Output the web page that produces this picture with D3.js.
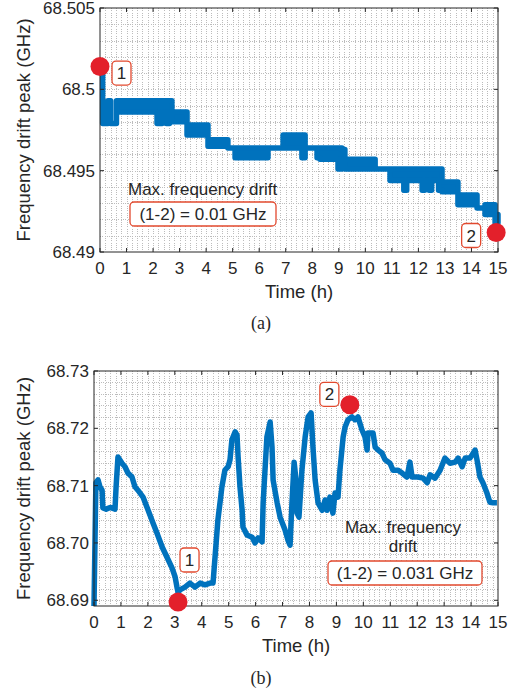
<!DOCTYPE html>
<html>
<head>
<meta charset="utf-8">
<script src="https://cdn.jsdelivr.net/npm/d3@7"></script>
<style>
  body { margin: 0; background: #fff; }
  text { font-family: "Liberation Sans", Arial, Helvetica, sans-serif; fill: #262626; }
</style>
</head>
<body>
<script>
var W = 514, H = 693;

var hours = [0, 1, 2, 3, 4, 5, 6, 7, 8, 9, 10, 11, 12, 13, 14, 15];

/* (a) peak flickers between levels: time, lower level, upper level (step after) */
var tA  = [0.00, 0.10, 0.30, 0.40, 0.62, 2.15, 2.34, 2.50, 2.62, 2.71, 3.28, 4.07, 4.82, 5.09, 6.33, 6.90, 7.61, 7.73, 8.18, 8.29, 8.97, 9.12, 9.23, 10.37, 10.93, 11.45, 11.56, 12.14, 12.24, 12.40, 12.50, 12.76, 12.89, 13.49, 14.21, 14.51, 14.89, 15.00];
var loA = [68.5014, 68.4979, 68.4986, 68.4979, 68.4986, 68.4979, 68.4986, 68.4979, 68.4986, 68.4980, 68.4972, 68.4965, 68.4964, 68.4958, 68.4964, 68.4964, 68.4958, 68.4964, 68.4958, 68.4957, 68.4951, 68.4957, 68.4951, 68.4951, 68.4944, 68.4938, 68.4944, 68.4938, 68.4944, 68.4938, 68.4944, 68.4938, 68.4937, 68.4929, 68.4927, 68.4923, 68.4918, 68.4918];
var hiA = [68.5014, 68.4979, 68.4993, 68.4979, 68.4993, 68.4993, 68.4993, 68.4993, 68.4993, 68.4986, 68.4978, 68.4969, 68.4964, 68.4964, 68.4964, 68.4972, 68.4972, 68.4964, 68.4964, 68.4964, 68.4964, 68.4963, 68.4957, 68.4951, 68.4951, 68.4951, 68.4951, 68.4951, 68.4951, 68.4951, 68.4951, 68.4951, 68.4943, 68.4935, 68.4927, 68.4929, 68.4923, 68.4918];

/* (b) */
var tB = [0, 0.07, 0.15, 0.22, 0.30, 0.33, 0.45, 0.60, 0.78, 0.82, 0.89, 1.04, 1.15, 1.26, 1.41, 1.52, 1.63, 1.82, 2.01, 2.19, 2.34, 2.53, 2.71, 2.90, 3.01, 3.08, 3.12, 3.19, 3.38, 3.56, 3.75, 3.94, 4.12, 4.31, 4.42, 4.60, 4.75, 4.86, 4.98, 5.05, 5.12, 5.24, 5.31, 5.35, 5.42, 5.50, 5.53, 5.68, 5.87, 5.98, 6.09, 6.24, 6.28, 6.42, 6.54, 6.61, 6.65, 6.80, 6.91, 7.09, 7.20, 7.28, 7.35, 7.43, 7.50, 7.54, 7.61, 7.72, 7.84, 7.95, 8.06, 8.13, 8.21, 8.32, 8.47, 8.58, 8.65, 8.76, 8.87, 8.95, 9.06, 9.13, 9.25, 9.32, 9.43, 9.58, 9.69, 9.80, 9.95, 10.06, 10.14, 10.17, 10.36, 10.44, 10.55, 10.69, 10.81, 10.99, 11.10, 11.29, 11.44, 11.62, 11.73, 11.81, 12.03, 12.22, 12.37, 12.48, 12.66, 12.85, 13.03, 13.22, 13.41, 13.52, 13.67, 13.78, 13.96, 14.15, 14.22, 14.33, 14.44, 14.59, 14.70, 14.82, 14.96];
var vB = [68.6890, 68.7105, 68.7110, 68.7098, 68.7092, 68.7061, 68.7059, 68.7062, 68.7059, 68.7098, 68.7150, 68.7139, 68.7133, 68.7122, 68.7115, 68.7098, 68.7092, 68.7080, 68.7057, 68.7035, 68.7017, 68.6993, 68.6975, 68.6956, 68.6941, 68.6923, 68.6914, 68.6918, 68.6923, 68.6930, 68.6923, 68.6930, 68.6927, 68.6930, 68.6930, 68.7040, 68.7098, 68.7127, 68.7133, 68.7145, 68.7180, 68.7194, 68.7188, 68.7150, 68.7098, 68.7057, 68.7028, 68.7014, 68.7010, 68.7000, 68.7009, 68.7002, 68.7070, 68.7185, 68.7211, 68.7167, 68.7110, 68.7070, 68.7045, 68.7023, 68.7005, 68.6996, 68.7070, 68.7141, 68.7110, 68.7052, 68.7045, 68.7127, 68.7185, 68.7220, 68.7227, 68.7167, 68.7110, 68.7070, 68.7057, 68.7075, 68.7057, 68.7080, 68.7052, 68.7087, 68.7080, 68.7127, 68.7185, 68.7202, 68.7215, 68.7220, 68.7215, 68.7220, 68.7197, 68.7185, 68.7162, 68.7192, 68.7192, 68.7167, 68.7162, 68.7157, 68.7145, 68.7139, 68.7127, 68.7127, 68.7122, 68.7115, 68.7141, 68.7115, 68.7115, 68.7113, 68.7105, 68.7119, 68.7113, 68.7127, 68.7148, 68.7139, 68.7141, 68.7148, 68.7133, 68.7148, 68.7148, 68.7162, 68.7145, 68.7115, 68.7105, 68.7087, 68.7071, 68.7070, 68.7070];

var markA = [{t: 0, v: 68.5014, label: "1"}, {t: 14.93, v: 68.4912, label: "2"}];
var markB = [{t: 3.12, v: 68.6897, label: "1"}, {t: 9.5, v: 68.7241, label: "2"}];

var yTicksA = [68.49, 68.495, 68.5, 68.505];
var yLabelsA = ["68.49", "68.495", "68.5", "68.505"];
var yTicksB = [68.69, 68.70, 68.71, 68.72, 68.73];
var yLabelsB = ["68.69", "68.70", "68.71", "68.72", "68.73"];

var blue = "#0072BD", red = "#e3202b", boxRed = "#e2492e", ink = "#262626";

const svg = d3.select("body").append("svg")
  .attr("width", W)
  .attr("height", H);

function labelBox(cx, cy, w, h, txt) {
  svg.append("rect")
    .attr("x", cx - w / 2).attr("y", cy - h / 2)
    .attr("width", w).attr("height", h)
    .attr("rx", 4).attr("ry", 4)
    .attr("fill", "#fff")
    .attr("stroke", boxRed)
    .attr("stroke-width", 1.3);
  if (txt != null) {
    svg.append("text")
      .attr("x", cx).attr("y", cy)
      .attr("dy", "0.36em")
      .attr("text-anchor", "middle")
      .style("font-size", "17px")
      .text(txt);
  }
}

function panel(o) {
  const x = d3.scaleLinear().domain([0, 15]).range([o.left, o.right]);
  const y = d3.scaleLinear().domain(o.ydom).range([o.bottom, o.top]);

  /* dotted grid */
  const grid = svg.append("g")
    .attr("stroke", "#bcbcbc")
    .attr("stroke-width", 1)
    .attr("stroke-dasharray", "1,1.3")
    .attr("shape-rendering", "crispEdges");

  grid.selectAll("line.gx")
    .data(d3.range(1, 75).map(i => i * 0.2))
    .enter().append("line")
    .attr("x1", d => Math.round(x(d)) + 0.5).attr("x2", d => Math.round(x(d)) + 0.5)
    .attr("y1", o.top).attr("y2", o.bottom);

  const ny = Math.round((o.ydom[1] - o.ydom[0]) / o.ymin);
  grid.selectAll("line.gy")
    .data(d3.range(0, ny + 1).map(i => o.ystart + i * o.ymin).filter(d => d > o.ydom[0] && d < o.ydom[1] - 1e-9))
    .enter().append("line")
    .attr("x1", o.left).attr("x2", o.right)
    .attr("y1", d => Math.round(y(d)) + 0.5).attr("y2", d => Math.round(y(d)) + 0.5);

  /* data */
  o.draw(x, y);

  /* box and inward ticks */
  svg.append("rect")
    .attr("x", o.left).attr("y", o.top)
    .attr("width", o.right - o.left).attr("height", o.bottom - o.top)
    .attr("fill", "none")
    .attr("stroke", ink)
    .attr("stroke-width", 1);

  const tk = svg.append("g").attr("stroke", ink).attr("stroke-width", 1);
  hours.forEach(function (h) {
    tk.append("line").attr("x1", x(h)).attr("x2", x(h)).attr("y1", o.bottom).attr("y2", o.bottom - 4);
    tk.append("line").attr("x1", x(h)).attr("x2", x(h)).attr("y1", o.top).attr("y2", o.top + 4);
  });
  o.yticks.forEach(function (v) {
    tk.append("line").attr("x1", o.left).attr("x2", o.left + 4).attr("y1", y(v)).attr("y2", y(v));
    tk.append("line").attr("x1", o.right).attr("x2", o.right - 4).attr("y1", y(v)).attr("y2", y(v));
  });

  svg.append("g").selectAll("text")
    .data(hours)
    .enter().append("text")
    .attr("x", d => x(d))
    .attr("y", o.bottom + 22)
    .attr("text-anchor", "middle")
    .style("font-size", "17px")
    .text(d => d);

  svg.append("g").selectAll("text")
    .data(o.yticks)
    .enter().append("text")
    .attr("x", o.left - 5)
    .attr("y", d => y(d))
    .attr("dy", "0.36em")
    .attr("text-anchor", "end")
    .style("font-size", "17px")
    .text((d, i) => o.ylabels[i]);

  svg.append("text")
    .attr("x", (o.left + o.right) / 2)
    .attr("y", o.bottom + 46)
    .attr("text-anchor", "middle")
    .style("font-size", "18.5px")
    .text("Time (h)");

  svg.append("text")
    .attr("transform", "translate(30," + (o.top + o.bottom) / 2 + ") rotate(-90)")
    .attr("text-anchor", "middle")
    .style("font-size", "18.5px")
    .text("Frequency drift peak (GHz)");

  svg.append("text")
    .attr("x", 261)
    .attr("y", o.caption)
    .attr("text-anchor", "middle")
    .style("font-family", "'Liberation Serif', 'Times New Roman', serif")
    .style("font-size", "18px")
    .text(o.tag);

  /* red points and numbered boxes */
  o.marks.forEach(function (m, i) {
    svg.append("circle")
      .attr("cx", x(m.t)).attr("cy", y(m.v))
      .attr("r", 9.5)
      .attr("fill", red);
    labelBox(x(m.t) + o.boxOff[i][0], y(m.v) + o.boxOff[i][1], 19, 24, m.label);
  });

  return {x: x, y: y};
}

/* (a) */
panel({
  left: 100, right: 498, top: 8, bottom: 252,
  ydom: [68.49, 68.505], ystart: 68.49, ymin: 0.001,
  yticks: yTicksA, ylabels: yLabelsA,
  marks: markA, boxOff: [[21.5, 6.5], [-25, 3]],
  tag: "(a)", caption: 329,
  draw: function (x, y) {
    const rows = tA.map((t, i) => ({t: t, lo: loA[i], hi: hiA[i]}));
    const band = d3.area()
      .curve(d3.curveStepAfter)
      .x(d => x(d.t))
      .y0(d => y(d.lo))
      .y1(d => y(d.hi));
    svg.append("path")
      .datum(rows)
      .attr("d", band)
      .attr("fill", blue)
      .attr("stroke", blue)
      .attr("stroke-width", 5.5)
      .attr("stroke-linejoin", "round");
  }
});

svg.append("text")
  .attr("x", 128).attr("y", 195)
  .style("font-size", "17px")
  .text("Max. frequency drift");
labelBox(203, 214, 146, 24, null);
svg.append("text")
  .attr("x", 203).attr("y", 214)
  .attr("dy", "0.36em")
  .attr("text-anchor", "middle")
  .style("font-size", "17px")
  .text("(1-2) = 0.01 GHz");

/* (b) */
panel({
  left: 94, right: 498, top: 371, bottom: 606,
  ydom: [68.689, 68.73], ystart: 68.688, ymin: 0.002,
  yticks: yTicksB, ylabels: yLabelsB,
  marks: markB, boxOff: [[11.5, -42], [-20.5, -10.5]],
  tag: "(b)", caption: 684,
  draw: function (x, y) {
    const pts = tB.map((t, i) => [t, vB[i]]);
    const line = d3.line()
      .x(d => x(d[0]))
      .y(d => y(d[1]));
    svg.append("path")
      .datum(pts)
      .attr("d", line)
      .attr("fill", "none")
      .attr("stroke", blue)
      .attr("stroke-width", 5.5)
      .attr("stroke-linejoin", "round");
  }
});

svg.append("text")
  .attr("x", 403).attr("y", 533)
  .attr("text-anchor", "middle")
  .style("font-size", "17px")
  .text("Max. frequency");
svg.append("text")
  .attr("x", 403).attr("y", 552)
  .attr("text-anchor", "middle")
  .style("font-size", "17px")
  .text("drift");
labelBox(405, 573, 154, 24, null);
svg.append("text")
  .attr("x", 405).attr("y", 573)
  .attr("dy", "0.36em")
  .attr("text-anchor", "middle")
  .style("font-size", "17px")
  .text("(1-2) = 0.031 GHz");
</script>
</body>
</html>
